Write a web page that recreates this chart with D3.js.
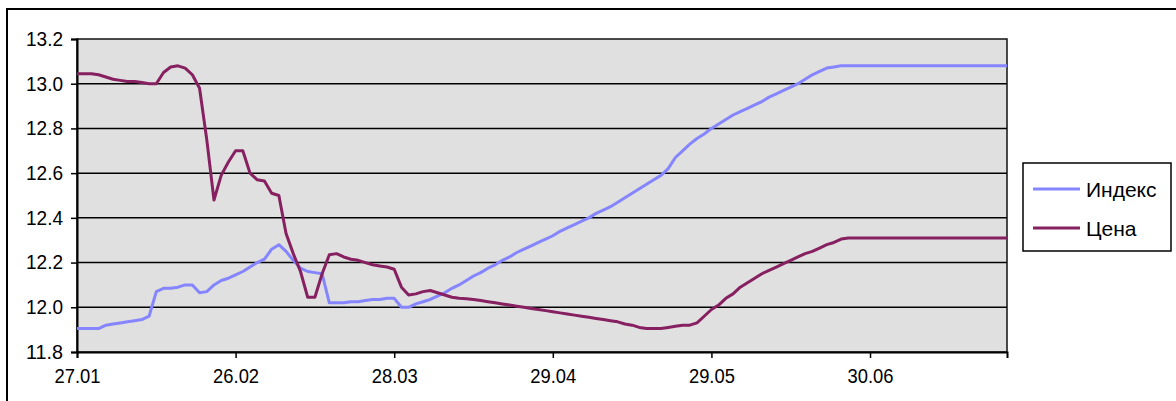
<!DOCTYPE html>
<html>
<head>
<meta charset="utf-8">
<script src="https://cdn.jsdelivr.net/npm/d3@7"></script>
<style>
  html, body { margin: 0; padding: 0; background: #fff; overflow: hidden; }
  svg { display: block; font-family: "Liberation Sans", Arial, sans-serif; }
</style>
</head>
<body>
<svg id="chart" width="1176" height="401"></svg>
<script>
// ---- data ----
const tickLabels = ["27.01", "26.02", "28.03", "29.04", "29.05", "30.06"];
const tickEvery = 22;
const seriesNames = ["Индекс", "Цена"];
const indexValues = [
  11.905, 11.905, 11.905, 11.905, 11.92, 11.925, 11.93, 11.935, 11.94, 11.945,
  11.96, 12.07, 12.085, 12.085, 12.09, 12.10, 12.10, 12.065, 12.07, 12.10,
  12.12, 12.13, 12.145, 12.16, 12.18, 12.20, 12.215, 12.26, 12.28, 12.25,
  12.21, 12.175, 12.16, 12.155, 12.15, 12.02, 12.02, 12.02, 12.025, 12.025,
  12.03, 12.035, 12.035, 12.04, 12.04, 12.00, 12.00, 12.015, 12.025, 12.035,
  12.05, 12.065, 12.085, 12.10, 12.12, 12.14, 12.155, 12.175, 12.19, 12.21,
  12.225, 12.245, 12.26, 12.275, 12.29, 12.305, 12.32, 12.34, 12.355, 12.37,
  12.385, 12.40, 12.42, 12.435, 12.45, 12.47, 12.49, 12.51, 12.53, 12.55,
  12.57, 12.59, 12.62, 12.67, 12.70, 12.73, 12.755, 12.775, 12.80, 12.82,
  12.84, 12.86, 12.875, 12.89, 12.905, 12.92, 12.94, 12.955, 12.97, 12.985,
  13.00, 13.02, 13.04, 13.055, 13.07, 13.075, 13.08, 13.08, 13.08, 13.08,
  13.08, 13.08, 13.08, 13.08, 13.08, 13.08, 13.08, 13.08, 13.08, 13.08,
  13.08, 13.08, 13.08, 13.08, 13.08, 13.08, 13.08, 13.08, 13.08, 13.08
];
const priceValues = [
  13.045, 13.045, 13.045, 13.04, 13.03, 13.02, 13.015, 13.01, 13.01, 13.005,
  13.0, 13.0, 13.05, 13.075, 13.08, 13.07, 13.04, 12.98, 12.75, 12.48,
  12.59, 12.65, 12.70, 12.70, 12.60, 12.57, 12.565, 12.51, 12.50, 12.33,
  12.24, 12.16, 12.045, 12.045, 12.15, 12.235, 12.24, 12.225, 12.215, 12.21,
  12.20, 12.19, 12.185, 12.18, 12.17, 12.09, 12.055, 12.06, 12.07, 12.075,
  12.065, 12.055, 12.045, 12.04, 12.038, 12.035, 12.03, 12.025, 12.02, 12.015,
  12.01, 12.005, 12.0, 11.995, 11.99, 11.985, 11.98, 11.975, 11.97, 11.965,
  11.96, 11.955, 11.95, 11.945, 11.94, 11.935, 11.925, 11.92, 11.91, 11.905,
  11.905, 11.905, 11.91, 11.915, 11.92, 11.92, 11.93, 11.96, 11.99, 12.01,
  12.04, 12.06, 12.09, 12.11, 12.13, 12.15, 12.165, 12.18, 12.195, 12.21,
  12.225, 12.24, 12.25, 12.265, 12.28, 12.29, 12.305, 12.31, 12.31, 12.31,
  12.31, 12.31, 12.31, 12.31, 12.31, 12.31, 12.31, 12.31, 12.31, 12.31,
  12.31, 12.31, 12.31, 12.31, 12.31, 12.31, 12.31, 12.31, 12.31, 12.31
];
const yTicks = [11.8, 12.0, 12.2, 12.4, 12.6, 12.8, 13.0, 13.2];

// ---- layout ----
const svg = d3.select("#chart");
const plot = { left: 77, top: 39, right: 1007, bottom: 352 };
const colors = ["#8585ff", "#862060"];
const fontFam = "Liberation Sans, Arial, sans-serif";

// outer chart border (cropped)
svg.append("rect")
  .attr("x", 7).attr("y", 9).attr("width", 1200).attr("height", 420)
  .attr("fill", "#fff").attr("stroke", "#000").attr("stroke-width", 2);

const n = indexValues.length;
const x = d3.scaleLinear().domain([0, n - 1]).range([plot.left, plot.right]);
const y = d3.scaleLinear().domain([11.8, 13.2]).range([plot.bottom, plot.top]);

// plot background
svg.append("rect")
  .attr("x", plot.left).attr("y", plot.top)
  .attr("width", plot.right - plot.left).attr("height", plot.bottom - plot.top)
  .attr("fill", "#e0e0e0");

// gridlines
svg.append("g").selectAll("line").data(yTicks.filter(t => t > 11.8 && t < 13.2)).join("line")
  .attr("x1", plot.left).attr("x2", plot.right)
  .attr("y1", d => y(d)).attr("y2", d => y(d))
  .attr("stroke", "#000").attr("stroke-width", 1.5);

// plot border
svg.append("rect")
  .attr("x", plot.left).attr("y", plot.top)
  .attr("width", plot.right - plot.left).attr("height", plot.bottom - plot.top)
  .attr("fill", "none").attr("stroke", "#111").attr("stroke-width", 1.5);

// y axis
const yAxis = d3.axisLeft(y).tickValues(yTicks).tickFormat(d3.format(".1f")).tickSizeOuter(0).tickSize(6).tickPadding(8);
const gy = svg.append("g").attr("transform", `translate(${plot.left},0)`).call(yAxis);
gy.select(".domain").attr("stroke", "#000").attr("stroke-width", 2);
gy.selectAll(".tick line").attr("stroke", "#000").attr("stroke-width", 1.5);
gy.selectAll(".tick text").attr("font-size", 20).attr("fill", "#000")
  .attr("font-family", fontFam).attr("textLength", 37).attr("lengthAdjust", "spacingAndGlyphs");

// x axis
const xTickVals = tickLabels.map((_, i) => i * tickEvery);
const xAxis = d3.axisBottom(x).tickValues(xTickVals).tickFormat((d, i) => tickLabels[i]).tickSizeOuter(0).tickSize(6).tickPadding(11);
const gx = svg.append("g").attr("transform", `translate(0,${plot.bottom})`).call(xAxis);
gx.select(".domain").attr("stroke", "#000").attr("stroke-width", 2);
gx.selectAll(".tick line").attr("stroke", "#000").attr("stroke-width", 1.5);
gx.selectAll(".tick text").attr("font-size", 20).attr("fill", "#000")
  .attr("font-family", fontFam).attr("textLength", 46).attr("lengthAdjust", "spacingAndGlyphs");

// lines
const line = d3.line().x((d, i) => x(i)).y(d => y(d));
[indexValues, priceValues].forEach((vals, k) => {
  svg.append("path").datum(vals)
    .attr("d", line).attr("fill", "none")
    .attr("stroke", colors[k]).attr("stroke-width", 3)
    .attr("stroke-linejoin", "round");
});

// legend
const lg = svg.append("g").attr("transform", "translate(1023,163)");
lg.append("rect").attr("width", 148).attr("height", 88)
  .attr("fill", "#fff").attr("stroke", "#000").attr("stroke-width", 1.5);
seriesNames.forEach((name, k) => {
  const cy = 26 + k * 39;
  lg.append("line").attr("x1", 10).attr("x2", 57).attr("y1", cy).attr("y2", cy)
    .attr("stroke", colors[k]).attr("stroke-width", 3);
  lg.append("text").attr("x", 63).attr("y", cy).attr("dy", "0.36em")
    .attr("font-size", 21).attr("font-family", fontFam).attr("fill", "#000").text(name);
});
</script>
</body>
</html>
